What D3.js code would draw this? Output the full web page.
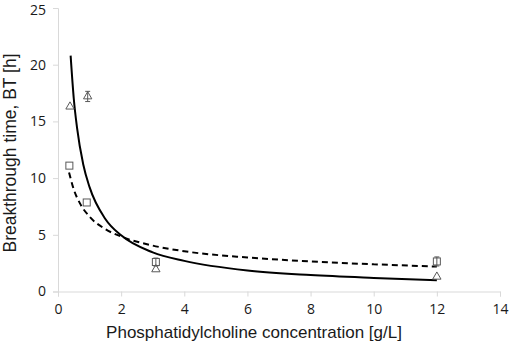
<!DOCTYPE html>
<html>
<head>
<meta charset="utf-8">
<script src="https://cdn.jsdelivr.net/npm/d3@7"></script>
<style>
  body { margin: 0; background: #fff; }
  svg { display: block; }
</style>
</head>
<body>
<script>
// DATA
// triangles
const triX = [0.38, 0.94, 3.1, 12];
const triY = [16.3, 17.2, 1.95, 1.3];
const triErr = [0, 0.45, 0, 0];
// squares
const sqX = [0.36, 0.91, 3.1, 12];
const sqY = [11.1, 7.85, 2.6, 2.65];
const sqErr = [0, 0, 0.35, 0.4];
// fitted trend lines
const solidX = [0.4, 0.5, 0.6, 0.8, 1, 1.5, 2, 3, 4, 6, 8, 10, 12];
const solidY = [20.8, 17.0, 14.5, 11.2, 9.2, 6.4, 4.95, 3.45, 2.7, 1.85, 1.45, 1.2, 1.0];
const dashX = [0.35, 0.5, 0.7, 1, 1.5, 2, 3, 4, 6, 8, 10, 12];
const dashY = [10.5, 9.0, 7.75, 6.6, 5.5, 4.85, 4.05, 3.55, 3.0, 2.65, 2.4, 2.2];
const xTicks = [0, 2, 4, 6, 8, 10, 12, 14];
const yTicks = [0, 5, 10, 15, 20, 25];

// SIZE
const WIDTH = 510;
const HEIGHT = 346;
const margin = { left: 58, right: 10, top: 8, bottom: 54.5 };

const svg = d3.select("body").append("svg").attr("width", WIDTH).attr("height", HEIGHT);

// SCALES
const x = d3.scaleLinear().domain([0, 14]).range([margin.left, WIDTH - margin.right]);
const y = d3.scaleLinear().domain([0, 25]).range([HEIGHT - margin.bottom, margin.top]);

const axisColor = "#d9d9d9";
const textColor = "#1a1a1a";

// AXES
const xAxis = svg.append("g")
  .attr("transform", `translate(0,${y(0)})`)
  .call(d3.axisBottom(x).tickValues(xTicks).tickSize(5).tickPadding(8));
const yAxis = svg.append("g")
  .attr("transform", `translate(${x(0)},0)`)
  .call(d3.axisLeft(y).tickValues(yTicks).tickSize(5).tickPadding(7));

[xAxis, yAxis].forEach(g => {
  g.select(".domain").attr("stroke", axisColor);
  g.selectAll(".tick line").attr("stroke", axisColor);
  g.selectAll(".tick text")
    .attr("fill", textColor)
    .style("font-family", "'Open Sans', sans-serif")
    .style("font-size", "14px");
});
// keep the top label inside the picture
yAxis.selectAll(".tick text").filter(d => d === 25).attr("dy", "0.45em");

// AXIS TITLES
svg.append("text")
  .attr("x", 254)
  .attr("y", 338)
  .attr("text-anchor", "middle")
  .attr("fill", textColor)
  .style("font-family", "'Liberation Sans', Arial, sans-serif")
  .style("font-size", "17px")
  .text("Phosphatidylcholine concentration [g/L]");

svg.append("text")
  .attr("transform", `translate(16,153) rotate(-90)`)
  .attr("text-anchor", "middle")
  .attr("fill", textColor)
  .style("font-family", "'Liberation Sans', Arial, sans-serif")
  .style("font-size", "17.5px")
  .text("Breakthrough time, BT [h]");

// TREND LINES
const line = d3.line()
  .x(d => x(d[0]))
  .y(d => y(d[1]))
  .curve(d3.curveMonotoneX);

svg.append("path")
  .datum(dashX.map((v, i) => [v, dashY[i]]))
  .attr("d", line)
  .attr("fill", "none")
  .attr("stroke", "#000")
  .attr("stroke-width", 2)
  .attr("stroke-dasharray", "6,4");

svg.append("path")
  .datum(solidX.map((v, i) => [v, solidY[i]]))
  .attr("d", line)
  .attr("fill", "none")
  .attr("stroke", "#000")
  .attr("stroke-width", 2);

// ERROR BARS
const markerColor = "#595959";
const errorBars = (xs, ys, errs) => {
  const data = xs.map((v, i) => ({ x: v, y: ys[i], e: errs[i] })).filter(d => d.e > 0);
  const g = svg.append("g").attr("stroke", markerColor).attr("stroke-width", 1);
  g.selectAll("line.v").data(data).enter().append("line")
    .attr("x1", d => x(d.x)).attr("x2", d => x(d.x))
    .attr("y1", d => y(d.y - d.e)).attr("y2", d => y(d.y + d.e));
  g.selectAll("line.top").data(data).enter().append("line")
    .attr("x1", d => x(d.x) - 2.5).attr("x2", d => x(d.x) + 2.5)
    .attr("y1", d => y(d.y + d.e)).attr("y2", d => y(d.y + d.e));
  g.selectAll("line.bot").data(data).enter().append("line")
    .attr("x1", d => x(d.x) - 2.5).attr("x2", d => x(d.x) + 2.5)
    .attr("y1", d => y(d.y - d.e)).attr("y2", d => y(d.y - d.e));
};
errorBars(triX, triY, triErr);
errorBars(sqX, sqY, sqErr);

// MARKERS
const tri = d3.symbol().type(d3.symbolTriangle).size(30);
svg.append("g")
  .selectAll("path")
  .data(triX.map((v, i) => [v, triY[i]]))
  .enter()
  .append("path")
  .attr("d", tri)
  .attr("transform", d => `translate(${x(d[0])},${y(d[1])})`)
  .attr("fill", "none")
  .attr("stroke", markerColor)
  .attr("stroke-width", 1);

svg.append("g")
  .selectAll("rect")
  .data(sqX.map((v, i) => [v, sqY[i]]))
  .enter()
  .append("rect")
  .attr("x", d => x(d[0]) - 3.5)
  .attr("y", d => y(d[1]) - 3.5)
  .attr("width", 7)
  .attr("height", 7)
  .attr("fill", "none")
  .attr("stroke", markerColor)
  .attr("stroke-width", 1);
</script>
</body>
</html>
